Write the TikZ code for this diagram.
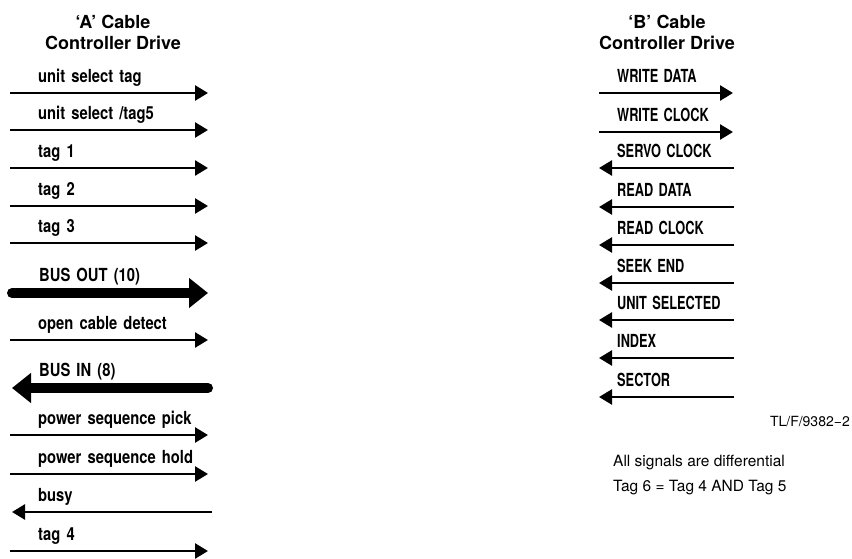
\documentclass[tikz,border=0pt]{standalone}
\usepackage{fontspec}
\setmainfont{TeX Gyre Heros}
\newfontfamily\lblfont[FakeStretch=0.82,WordSpace=1.5]{TeX Gyre Heros}
\newfontfamily\capfont[FakeStretch=0.71,WordSpace=1.5]{TeX Gyre Heros}
\usetikzlibrary{arrows.meta,positioning}

\begin{document}
\begin{tikzpicture}[
  x=1pt,y=-1pt,
  node distance=6.5pt and 28pt,
  head/.style={align=center,inner sep=0pt,font=\fontsize{18}{21}\selectfont\bfseries},
  lbl/.style={inner sep=0pt,text depth=3.5pt,font=\lblfont\bfseries\fontsize{18}{20}\selectfont},
  caplbl/.style={lbl,font=\capfont\bfseries\fontsize{18}{20}\selectfont},
  note/.style={inner sep=0pt,anchor=base west,font=\fontsize{15.5}{18}\selectfont},
  sig/.style={-{Triangle[length=13pt,width=15pt]},line width=2.6pt},
  bus/.style={-{Triangle[length=19pt,width=29pt]},line width=10pt,line cap=round}
]
  \useasboundingbox (0,0) rectangle (852,559);
  % 'A' cable, controller -> drive
  \node[head] (hdA) at (113,32.5) {`A' Cable\\Controller Drive};
  \coordinate (ustW) at (10,93);   \coordinate (ustE) at (208,93);
  \coordinate (us5W) at (10,130);  \coordinate (us5E) at (208,130);
  \coordinate (tg1W) at (10,168);  \coordinate (tg1E) at (208,168);
  \coordinate (tg2W) at (10,206);  \coordinate (tg2E) at (208,206);
  \coordinate (tg3W) at (10,243);  \coordinate (tg3E) at (208,243);
  \coordinate (boutW) at (12,293); \coordinate (boutE) at (208,293);
  \coordinate (ocdW) at (10,340);  \coordinate (ocdE) at (208,340);
  \coordinate (binW) at (12,388);  \coordinate (binE) at (208,388);
  \coordinate (pspW) at (10,435);  \coordinate (pspE) at (208,435);
  \coordinate (pshW) at (10,474);  \coordinate (pshE) at (208,474);
  \coordinate (busyW) at (12,512); \coordinate (busyE) at (212,512);
  \coordinate (tg4W) at (10,551);  \coordinate (tg4E) at (208,551);
  \node[lbl,above right=of ustW] (ust) {unit select tag};
  \node[lbl,above right=of us5W] (us5) {unit select /tag5};
  \node[lbl,above right=of tg1W] (tg1) {tag 1};
  \node[lbl,above right=of tg2W] (tg2) {tag 2};
  \node[lbl,above right=of tg3W] (tg3) {tag 3};
  \node[lbl,above right=7.5pt and 27pt of boutW] (bout) {BUS OUT (10)};
  \node[lbl,above right=of ocdW] (ocd) {open cable detect};
  \node[lbl,above right=7.5pt and 27pt of binW] (bin) {BUS IN (8)};
  \node[lbl,above right=of pspW] (psp) {power sequence pick};
  \node[lbl,above right=of pshW] (psh) {power sequence hold};
  \node[lbl,above right=6.5pt and 26pt of busyW] (busy) {busy};
  \node[lbl,above right=of tg4W] (tg4) {tag 4};
  \draw[sig] (ustW) -- (ustE);
  \draw[sig] (us5W) -- (us5E);
  \draw[sig] (tg1W) -- (tg1E);
  \draw[sig] (tg2W) -- (tg2E);
  \draw[sig] (tg3W) -- (tg3E);
  \draw[bus] (boutW) -- (boutE);
  \draw[sig] (ocdW) -- (ocdE);
  \draw[bus] (binE) -- (binW);
  \draw[sig] (pspW) -- (pspE);
  \draw[sig] (pshW) -- (pshE);
  \draw[sig] (busyE) -- (busyW);
  \draw[sig] (tg4W) -- (tg4E);
  % 'B' cable
  \node[head] (hdB) at (667,32.5) {`B' Cable\\Controller Drive};
  \coordinate (wdatW) at (599,93);  \coordinate (wdatE) at (733,93);
  \coordinate (wclkW) at (599,132); \coordinate (wclkE) at (733,132);
  \coordinate (sclkW) at (599,168); \coordinate (sclkE) at (734,168);
  \coordinate (rdatW) at (599,207); \coordinate (rdatE) at (734,207);
  \coordinate (rclkW) at (599,245); \coordinate (rclkE) at (734,245);
  \coordinate (seekW) at (599,283); \coordinate (seekE) at (734,283);
  \coordinate (uselW) at (599,320); \coordinate (uselE) at (734,320);
  \coordinate (idxW) at (599,358);  \coordinate (idxE) at (734,358);
  \coordinate (secW) at (599,397);  \coordinate (secE) at (734,397);
  \node[caplbl,above right=6.5pt and 18pt of wdatW] (wdat) {WRITE DATA};
  \node[caplbl,above right=6.5pt and 18pt of wclkW] (wclk) {WRITE CLOCK};
  \node[caplbl,above right=6.5pt and 18pt of sclkW] (sclk) {SERVO CLOCK};
  \node[caplbl,above right=6.5pt and 18pt of rdatW] (rdat) {READ DATA};
  \node[caplbl,above right=6.5pt and 18pt of rclkW] (rclk) {READ CLOCK};
  \node[caplbl,above right=6.5pt and 18pt of seekW] (seek) {SEEK END};
  \node[caplbl,above right=6.5pt and 18pt of uselW] (usel) {UNIT SELECTED};
  \node[caplbl,above right=6.5pt and 18pt of idxW] (idx) {INDEX};
  \node[caplbl,above right=6.5pt and 18pt of secW] (sec) {SECTOR};
  \draw[sig] (wdatW) -- (wdatE);
  \draw[sig] (wclkW) -- (wclkE);
  \draw[sig] (sclkE) -- (sclkW);
  \draw[sig] (rdatE) -- (rdatW);
  \draw[sig] (rclkE) -- (rclkW);
  \draw[sig] (seekE) -- (seekW);
  \draw[sig] (uselE) -- (uselW);
  \draw[sig] (idxE) -- (idxW);
  \draw[sig] (secE) -- (secW);
  % notes
  \node[inner sep=0pt,anchor=east,font=\fontsize{14}{16}\selectfont] (tlf) at (850,422) {TL/F/9382−2};
  \node[note] (diff) at (613,466) {All signals are differential};
  \node[note] (tag6) at (613,491) {Tag 6 = Tag 4 AND Tag 5};
\end{tikzpicture}
\end{document}
